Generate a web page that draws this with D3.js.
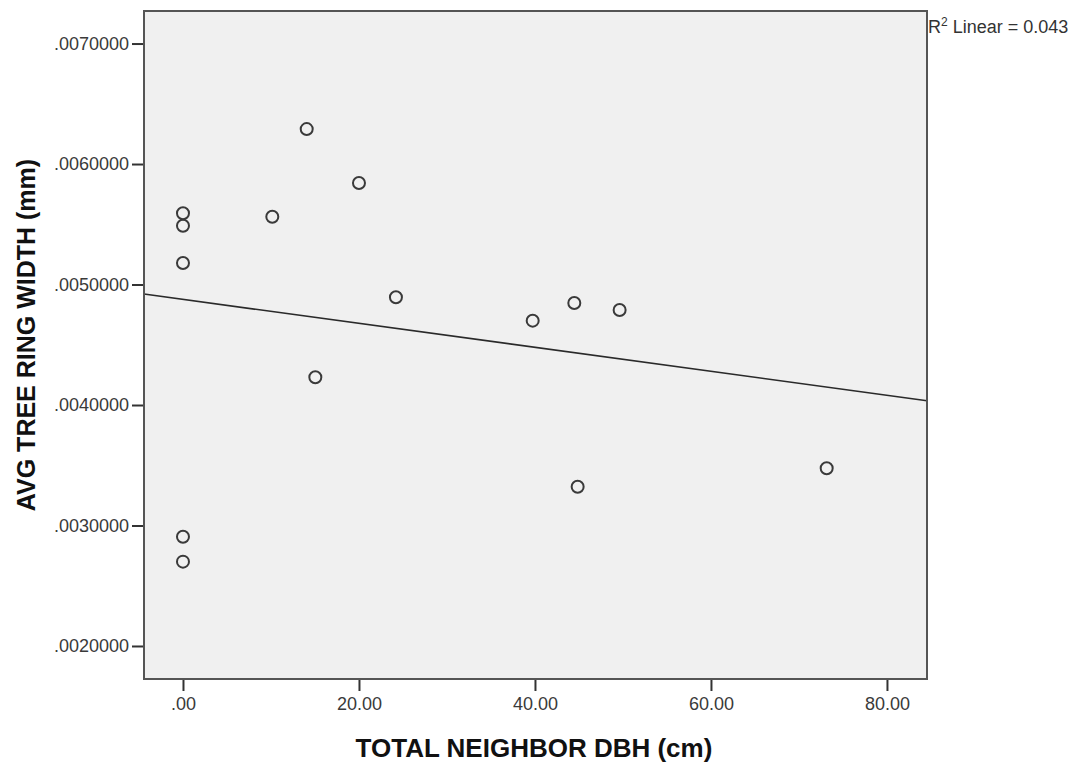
<!DOCTYPE html>
<html>
<head>
<meta charset="utf-8">
<script src="https://cdn.jsdelivr.net/npm/d3@7"></script>
<style>
  body { margin: 0; background: #fff; }
  svg { display: block; font-family: "Liberation Sans", Arial, sans-serif; }
</style>
</head>
<body>
<div id="chart"></div>
<script>
// Scatter: total neighbor DBH vs avg tree ring width
const neighborDbh = [0, 0, 0, 10.15, 14.06, 20.0, 24.2, 39.74, 44.47, 49.62, 15.04, 0, 0, 44.85, 73.15];
const ringWidth = [0.005591, 0.005488, 0.005178, 0.005563, 0.006290, 0.005842, 0.004894, 0.004700,
                   0.004846, 0.004788, 0.004230, 0.002907, 0.002700, 0.003322, 0.003475];
const xTicks = [0, 20, 40, 60, 80];
const yTicks = [0.002, 0.003, 0.004, 0.005, 0.006, 0.007];
const xTitle = 'TOTAL NEIGHBOR DBH (cm)';
const yTitle = 'AVG TREE RING WIDTH (mm)';
const r2Label = '0.043';

const width = 1081, height = 764;
const margin = { top: 11, right: 154, bottom: 85, left: 144 };
const plotW = width - margin.left - margin.right;
const plotH = height - margin.top - margin.bottom;

const svg = d3.select('#chart').append('svg')
  .attr('width', width)
  .attr('height', height);

const x = d3.scaleLinear().domain([-4.43, 84.55]).range([0, plotW]);
const y = d3.scaleLinear().domain([0.001726, 0.00727]).range([plotH, 0]);

const g = svg.append('g').attr('transform', `translate(${margin.left},${margin.top})`);

// plot background
g.append('rect')
  .attr('width', plotW)
  .attr('height', plotH)
  .attr('fill', '#f0f0f0');

// axes
const fmtX = v => d3.format('.2f')(v).replace(/^0/, '');
const fmtY = v => d3.format('.7f')(v).replace(/^0/, '');

const xAxis = g.append('g')
  .attr('transform', `translate(0,${plotH})`)
  .call(d3.axisBottom(x).tickValues(xTicks).tickFormat(fmtX).tickSize(12).tickPadding(6));
const yAxis = g.append('g')
  .call(d3.axisLeft(y).tickValues(yTicks).tickFormat(fmtY).tickSize(12).tickPadding(3));

[xAxis, yAxis].forEach(ax => {
  ax.select('.domain').remove();
  ax.selectAll('line').attr('stroke', '#333').attr('stroke-width', 2);
  ax.selectAll('text')
    .attr('fill', '#3a3a3a')
    .attr('font-size', 18)
    .attr('font-family', '"Liberation Sans", Arial, sans-serif');
});

// regression line (least squares from the data)
const mx = d3.mean(neighborDbh), my = d3.mean(ringWidth);
let sxy = 0, sxx = 0;
neighborDbh.forEach((v, i) => {
  sxy += (v - mx) * (ringWidth[i] - my);
  sxx += (v - mx) * (v - mx);
});
const slope = sxy / sxx;
const intercept = my - slope * mx;
const [x0, x1] = x.domain();

g.append('line')
  .attr('x1', x(x0)).attr('y1', y(intercept + slope * x0))
  .attr('x2', x(x1)).attr('y2', y(intercept + slope * x1))
  .attr('stroke', '#2a2a2a')
  .attr('stroke-width', 1.6);

// points
g.append('g')
  .selectAll('circle')
  .data(neighborDbh.map((v, i) => ({ x: v, y: ringWidth[i] })))
  .enter().append('circle')
  .attr('cx', d => x(d.x))
  .attr('cy', d => y(d.y))
  .attr('r', 6)
  .attr('fill', 'none')
  .attr('stroke', '#3a3a3a')
  .attr('stroke-width', 2);

// frame
g.append('rect')
  .attr('width', plotW)
  .attr('height', plotH)
  .attr('fill', 'none')
  .attr('stroke', '#555')
  .attr('stroke-width', 2);

// R squared label
const r2 = svg.append('text')
  .attr('x', margin.left + plotW + 1)
  .attr('y', 33)
  .attr('font-size', 18)
  .attr('fill', '#333');
r2.append('tspan').text('R');
r2.append('tspan').attr('font-size', 12).attr('dy', -7).text('2');
r2.append('tspan').attr('dy', 7).text(' Linear = ' + r2Label);

// axis titles
svg.append('text')
  .attr('x', margin.left + x(40) - 1)
  .attr('y', 757)
  .attr('text-anchor', 'middle')
  .attr('font-size', 26)
  .attr('font-weight', 'bold')
  .attr('fill', '#111')
  .text(xTitle);

svg.append('text')
  .attr('transform', 'translate(35,335) rotate(-90)')
  .attr('text-anchor', 'middle')
  .attr('font-size', 25)
  .attr('font-weight', 'bold')
  .attr('fill', '#111')
  .text(yTitle);
</script>
</body>
</html>
